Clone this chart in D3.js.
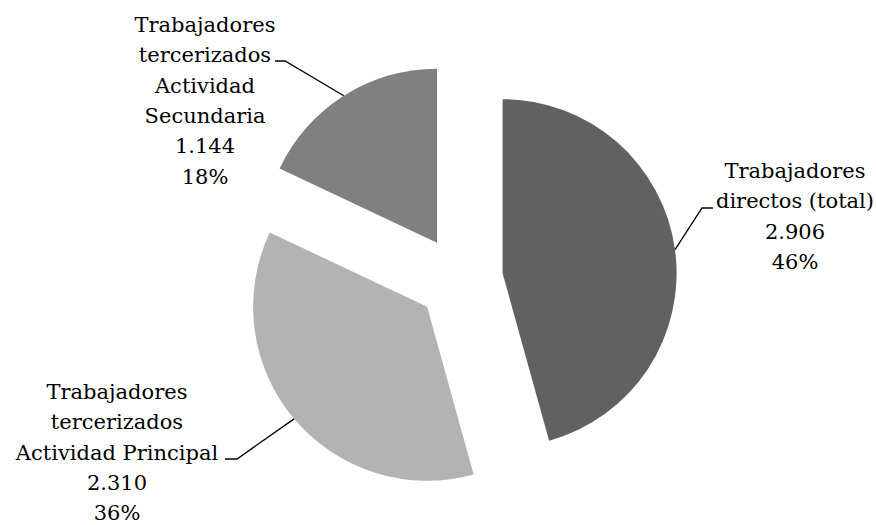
<!DOCTYPE html>
<html>
<head>
<meta charset="utf-8">
<script src="https://cdnjs.cloudflare.com/ajax/libs/d3/7.8.5/d3.min.js"></script>
<style>
  html, body { margin: 0; padding: 0; background: #ffffff; }
  svg { display: block; }
</style>
</head>
<body>
<svg id="chart" width="876" height="525"></svg>
<script>
// Distribution of workers by contract type
const categories = [
  ["Trabajadores", "directos (total)"],
  ["Trabajadores", "tercerizados", "Actividad Principal"],
  ["Trabajadores", "tercerizados", "Actividad", "Secundaria"]
];
const values = [2906, 2310, 1144];
const colors = ["#616161", "#b3b3b3", "#808080"];

const width = 876, height = 525;
const cx = 460, cy = 279;      // pie centre
const radius = 174;
const explode = 43;           // distance each slice is pulled out

// label layout: text centre x, first baseline y, leader elbow
const labelLayout = [
  { x: 795, y: 178, elbow: [702, 208], end: [713, 208] },
  { x: 117, y: 399, elbow: [237, 459], end: [225, 459] },
  { x: 205, y: 32,  elbow: [285, 61],  end: [275, 61] }
];
const lineHeight = 30.3;
const fontStack = "DejaVu Serif";

const svg = d3.select("#chart");
const total = d3.sum(values);
const fmtNum = d3.formatLocale({ decimal: ",", thousands: ".", grouping: [3], currency: ["", ""] }).format(",d");
const fmtPct = v => Math.round(v / total * 100) + "%";

const pie = d3.pie().sort(null).value(d => d)(values);
const arc = d3.arc().innerRadius(0).outerRadius(radius);

const g = svg.append("g").attr("transform", `translate(${cx},${cy})`);

pie.forEach((p, i) => {
  const mid = (p.startAngle + p.endAngle) / 2;
  const ox = explode * Math.sin(mid), oy = -explode * Math.cos(mid);
  g.append("path")
    .attr("d", arc(p))
    .attr("transform", `translate(${ox},${oy})`)
    .attr("fill", colors[i]);

  // leader line from outer edge of the slice to the label
  const sx = cx + ox + radius * Math.sin(mid);
  const sy = cy + oy - radius * Math.cos(mid);
  const L = labelLayout[i];
  svg.append("polyline")
    .attr("points", [[sx, sy], L.elbow, L.end].map(q => q.join(",")).join(" "))
    .attr("fill", "none")
    .attr("stroke", "#000")
    .attr("stroke-width", 1.3);

  const lines = categories[i].concat([fmtNum(values[i]), fmtPct(values[i])]);
  const t = svg.append("text")
    .attr("text-anchor", "middle")
    .style("font-family", fontStack)
    .style("font-size", "21px")
    .attr("fill", "#000");
  lines.forEach((s, k) => {
    t.append("tspan").attr("x", L.x).attr("y", L.y + k * lineHeight).text(s);
  });
});
</script>
</body>
</html>
